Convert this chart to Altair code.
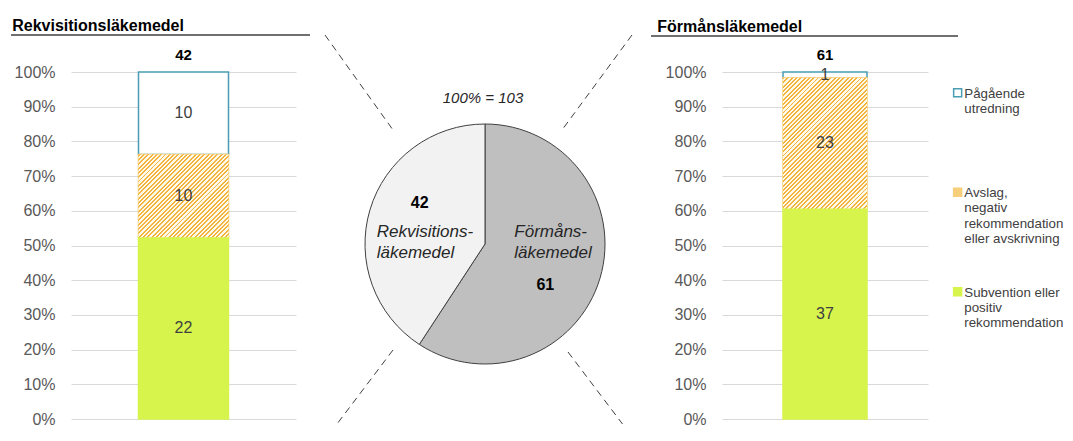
import altair as alt
import pandas as pd

# ---------------- data ----------------
PANELS = ["Rekvisitionsläkemedel", "Förmånsläkemedel"]
# legend order (top to bottom)
CATEGORIES = [
    "Pågående utredning",
    "Avslag, negativ rekommendation eller avskrivning",
    "Subvention eller positiv rekommendation",
]
CATEGORY_LINES = [
    ["Pågående", "utredning"],
    ["Avslag,", "negativ", "rekommendation", "eller avskrivning"],
    ["Subvention eller", "positiv", "rekommendation"],
]
REKV_COUNTS = [10, 10, 22]
FORMAN_COUNTS = [1, 23, 37]

PIE_NAMES = ["Förmånsläkemedel", "Rekvisitionsläkemedel"]
PIE_LINES = [["Förmåns-", "läkemedel"], ["Rekvisitions-", "läkemedel"]]
PIE_COUNTS = [61, 42]

Y_TICKS = [0.0, 0.1, 0.2, 0.3, 0.4, 0.5, 0.6, 0.7, 0.8, 0.9, 1.0]

# ---------------- style ----------------
FONT = "Liberation Sans"
GREEN = "#d6f44c"
ORANGE = "#f2b43e"
CREAM = "#fff9ea"
HATCH_SWATCH = "#f7cf7a"
TEAL = "#4a9db3"
WHITE = "#ffffff"
FILL_RANGE = [WHITE, HATCH_SWATCH, GREEN]
STROKE_RANGE = [TEAL, HATCH_SWATCH, GREEN]
PLOT_H = 347


def stripes(n, c1, c2, frac=0.45):
    stops = []
    for i in range(n):
        a, b, c = i / n, (i + frac) / n, (i + 1) / n
        stops += [
            {"offset": a, "color": c1},
            {"offset": b, "color": c1},
            {"offset": b, "color": c2},
            {"offset": c, "color": c2},
        ]
    return stops


def hatch_gradient(w, h):
    k = (w + h) / (w * w + h * h)
    n = max(1, round((w + h) / 4.3))
    return {
        "gradient": "linear",
        "x1": 0, "y1": 0, "x2": k * w, "y2": k * h,
        "stops": stripes(n, ORANGE, CREAM),
    }


def legend_label_expr():
    parts = []
    for cat, lines in zip(CATEGORIES, CATEGORY_LINES):
        padded = lines + [""] * (5 - len(lines))
        arr = "[" + ",".join("'" + s + "'" for s in padded) + "]"
        parts.append(f"datum.label == '{cat}' ? {arr} : ")
    return "".join(parts) + "datum.label"


def y_axis():
    return alt.Axis(
        values=Y_TICKS, format="%", title=None, domain=False, ticks=False,
        labelFontSize=16, labelColor="#595959", labelPadding=16,
        labelOverlap=False, gridColor="#d9d9d9", gridWidth=1, labelFont=FONT,
    )


def bar_panel(name, counts, plot_w, bar_w, rule_x, rule_x2, rule_y, title_dx, legend):
    df = pd.DataFrame({
        "Panel": name,
        "Category": CATEGORIES,
        "Count": counts,
        "Order": list(range(len(CATEGORIES))),
    })
    base = alt.Chart(df).transform_stack(
        stack="Count",
        groupby=["Panel"],
        as_=["y0", "y1"],
        offset="normalize",
        sort=[alt.SortField("Order", order="descending")],
    )
    y_scale = alt.Scale(domain=[0, 1], nice=False)
    x_enc = alt.X("Panel:N", axis=None)

    bars = base.mark_bar(size=bar_w, strokeWidth=1.5).encode(
        x=x_enc,
        y=alt.Y("y0:Q", scale=y_scale, axis=y_axis()),
        y2="y1:Q",
        color=alt.Color("Category:N", scale=alt.Scale(domain=CATEGORIES, range=FILL_RANGE),
                        legend=legend),
        stroke=alt.Stroke("Category:N", scale=alt.Scale(domain=CATEGORIES, range=STROKE_RANGE),
                          legend=legend),
    )

    hatch_h = counts[1] / sum(counts) * PLOT_H
    hatch = base.transform_filter(alt.datum.Category == CATEGORIES[1]).mark_bar(
        size=bar_w, fill=hatch_gradient(bar_w, hatch_h), strokeWidth=0
    ).encode(x=x_enc, y=alt.Y("y0:Q", scale=y_scale, axis=y_axis()), y2="y1:Q")

    labels = base.transform_calculate(mid="(datum.y0 + datum.y1) / 2").mark_text(
        font=FONT, fontSize=16, color="#404040"
    ).encode(x=x_enc, y=alt.Y("mid:Q", scale=y_scale, axis=y_axis()), text="Count:Q")

    total = base.transform_aggregate(
        total="sum(Count)", top="max(y1)", groupby=["Panel"]
    ).mark_text(font=FONT, fontSize=15, fontWeight="bold", color="#000000", dy=-17).encode(
        x=x_enc, y=alt.Y("top:Q", scale=y_scale, axis=y_axis()), text="total:Q"
    )

    underline = alt.Chart(pd.DataFrame({"k": [0]})).mark_rule(
        color="#404040", strokeWidth=1.5
    ).encode(x=alt.value(rule_x), x2=alt.value(rule_x2), y=alt.value(rule_y))

    return alt.layer(bars, hatch, labels, total, underline).properties(
        width=plot_w,
        height=PLOT_H,
        title=alt.TitleParams(
            text=name, anchor="start", frame="bounds", dx=title_dx, offset=0,
            fontSize=16, fontWeight="bold", color="#000000", font=FONT,
        ),
    )


legend_right = alt.Legend(
    orient="none", legendX=229, legendY=8, title=None,
    symbolType="M-1,0.5H1V2.5H-1Z", symbolSize=64, symbolStrokeWidth=1.5,
    labelExpr=legend_label_expr(), labelBaseline="top",
    labelFontSize=13.3, labelFont=FONT, labelColor="#404040", rowPadding=17.5,
    labelOffset=0, padding=0, labelLimit=220,
)

left = bar_panel(PANELS[0], REKV_COUNTS, 225, 90, -60, 239, -37, 2, None)
right = bar_panel(PANELS[1], FORMAN_COUNTS, 206, 84, -71, 236, -36, 7, legend_right)

# ---------------- pie ----------------
MID_W = 406
CX, CY = 179, 172
pie_df = pd.DataFrame({
    "Name": PIE_NAMES,
    "Count": PIE_COUNTS,
    "Lines": ["|".join(l) for l in PIE_LINES],
    "Ord": [0, 1],
})
pie_base = alt.Chart(pie_df).encode(
    theta=alt.Theta("Count:Q", stack=True),
    order=alt.Order("Ord:Q"),
    x=alt.value(CX),
    y=alt.value(CY),
)
arcs = pie_base.mark_arc(radius=120, stroke="#404040", strokeWidth=1).encode(
    color=alt.Color("Name:N", scale=alt.Scale(domain=PIE_NAMES, range=["#bfbfbf", "#f2f2f2"]),
                    legend=None)
)


def pie_num(name, dx, dy):
    return pie_base.transform_calculate(
        t=f"datum.Name == '{name}' ? datum.Count : ''"
    ).mark_text(radius=65, dx=dx, dy=dy, font=FONT, fontSize=16, fontWeight="bold",
                color="#000000").encode(text="t:N")


def pie_name(name, dx, dy):
    return pie_base.transform_calculate(
        t=f"datum.Name == '{name}' ? split(datum.Lines, '|') : ''"
    ).mark_text(radius=65, dx=dx, dy=dy, align="left", font=FONT, fontSize=17,
                fontStyle="italic", lineHeight=21, color="#262626").encode(text="t:N")


total_text = alt.Chart(pie_df).transform_aggregate(total="sum(Count)").transform_calculate(
    label="'100% = ' + datum.total"
).mark_text(font=FONT, fontSize=15, fontStyle="italic", color="#262626").encode(
    text="label:N", x=alt.value(CX - 2), y=alt.value(26)
)

one = pd.DataFrame({"k": [0]})


def dashed(x, y, x2, y2):
    return alt.Chart(one).mark_rule(color="#404040", strokeWidth=1, strokeDash=[7, 5]).encode(
        x=alt.value(x), y=alt.value(y), x2=alt.value(x2), y2=alt.value(y2)
    )


middle = alt.layer(
    dashed(19, -37, 87, 58),
    dashed(326, -37, 256, 58),
    dashed(87, 278, 31, 352),
    dashed(262, 280, 316.5, 352),
    arcs,
    pie_num(PIE_NAMES[1], -3, -22),
    pie_num(PIE_NAMES[0], -2, 22),
    pie_name(PIE_NAMES[1], -46, 6.6),
    pie_name(PIE_NAMES[0], -33, -30.6),
    total_text,
).properties(width=MID_W, height=PLOT_H)

chart = alt.hconcat(left, middle, right, spacing=10, bounds="flush").resolve_scale(
    color="independent", stroke="independent", x="independent", y="independent"
).properties(
    padding={"left": 2, "top": 10, "right": 0, "bottom": 0}
).configure(font=FONT).configure_view(strokeWidth=0, stroke=None)

chart.save("out.html", embed_options={"renderer": "svg", "actions": False})
